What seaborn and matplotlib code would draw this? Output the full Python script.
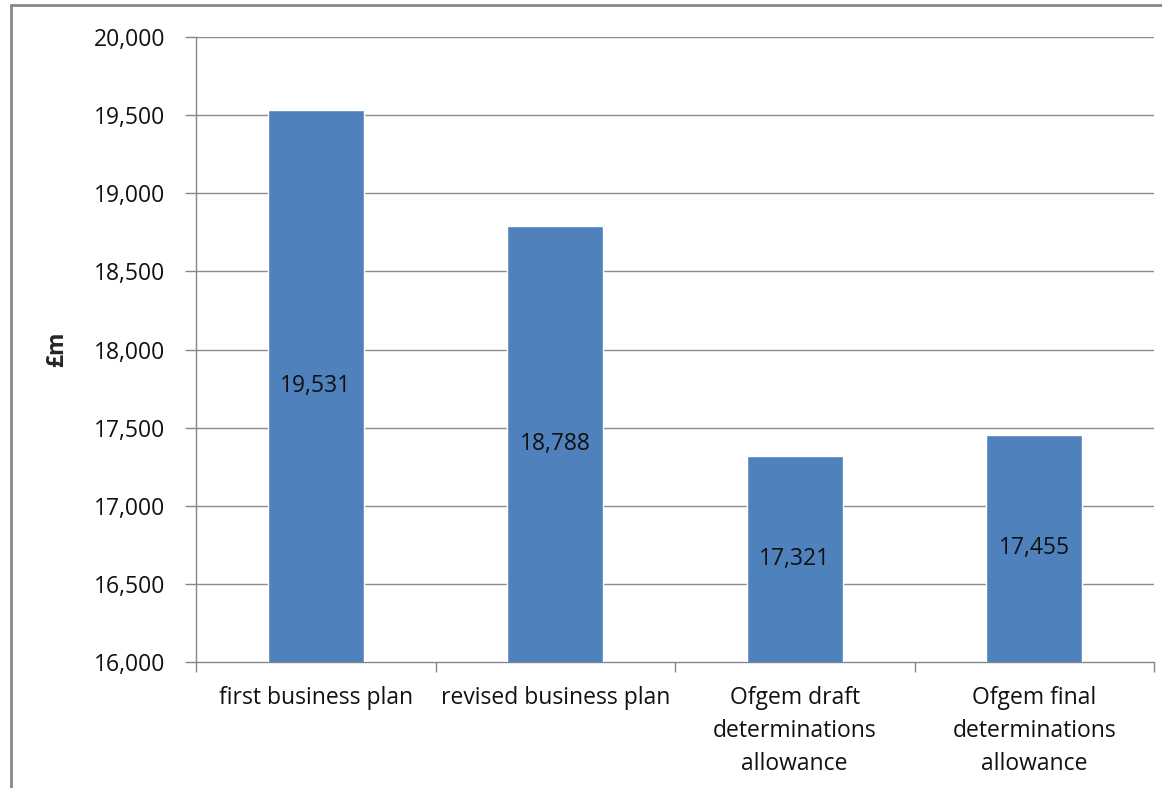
import matplotlib
matplotlib.use("Agg")
import matplotlib.pyplot as plt
import seaborn as sns
import pandas as pd
from matplotlib.patches import Rectangle

categories = ["first business plan", "revised business plan",
              "Ofgem draft\ndeterminations\nallowance",
              "Ofgem final\ndeterminations\nallowance"]
values = [19531, 18788, 17321, 17455]
value_labels = ["19,531", "18,788", "17,321", "17,455"]
yticks = [16000, 16500, 17000, 17500, 18000, 18500, 19000, 19500, 20000]
ytick_labels = ["16,000", "16,500", "17,000", "17,500", "18,000", "18,500", "19,000", "19,500", "20,000"]

sns.set_theme(style="white")
plt.rcParams['font.family'] = ['Open Sans', 'DejaVu Sans']

FS = 16.5

fig = plt.figure(figsize=(11.62, 7.88), dpi=100)
ax = fig.add_axes([196/1162, 1-662/788, (1154-196)/1162, (662-37)/788])

df = pd.DataFrame({"cat": categories, "val": values})
sns.barplot(data=df, x="cat", y="val", color="#4F81BD", saturation=1, width=0.4, ax=ax, zorder=3)

ax.set_ylim(16000, 20000)
ax.set_xlim(-0.5, 3.5)
ax.set_yticks(yticks)
ax.set_yticklabels(ytick_labels, fontsize=FS, color="#111111")
ax.set_xticks(range(len(categories)))
ax.set_xticklabels(categories, fontsize=FS, color="#111111", linespacing=1.5)
ax.tick_params(axis='x', length=0, pad=17)
ax.set_xticks([-0.5, 0.5, 1.5, 2.5, 3.5], minor=True)
ax.tick_params(axis='x', which='minor', length=7, width=1, color="#868686", direction='out', bottom=True)
ax.tick_params(axis='y', length=8, width=1, color="#868686", direction='out', pad=14, left=True)

for y in yticks[1:]:
    ax.axhline(y, color="#8c8c8c", lw=1, zorder=1)

for s in ["top", "right"]:
    ax.spines[s].set_visible(False)
for s in ["left", "bottom"]:
    ax.spines[s].set_color("#868686")
    ax.spines[s].set_linewidth(1)

ax.set_xlabel("")
ax.set_ylabel("£m", fontsize=FS, fontweight="bold", labelpad=18)

for i, (v, lab) in enumerate(zip(values, value_labels)):
    ax.text(i, (16000 + v) / 2, lab, ha="center", va="center", fontsize=FS, color="#111111", zorder=4)

# figure border (top and left visible)
fig.patches.append(Rectangle((11/1162, -0.1), 1.2, 1.1 - 5/788, transform=fig.transFigure,
                             fill=False, edgecolor="#888888", lw=2))

fig.savefig("out.png", dpi=100, facecolor="white")
